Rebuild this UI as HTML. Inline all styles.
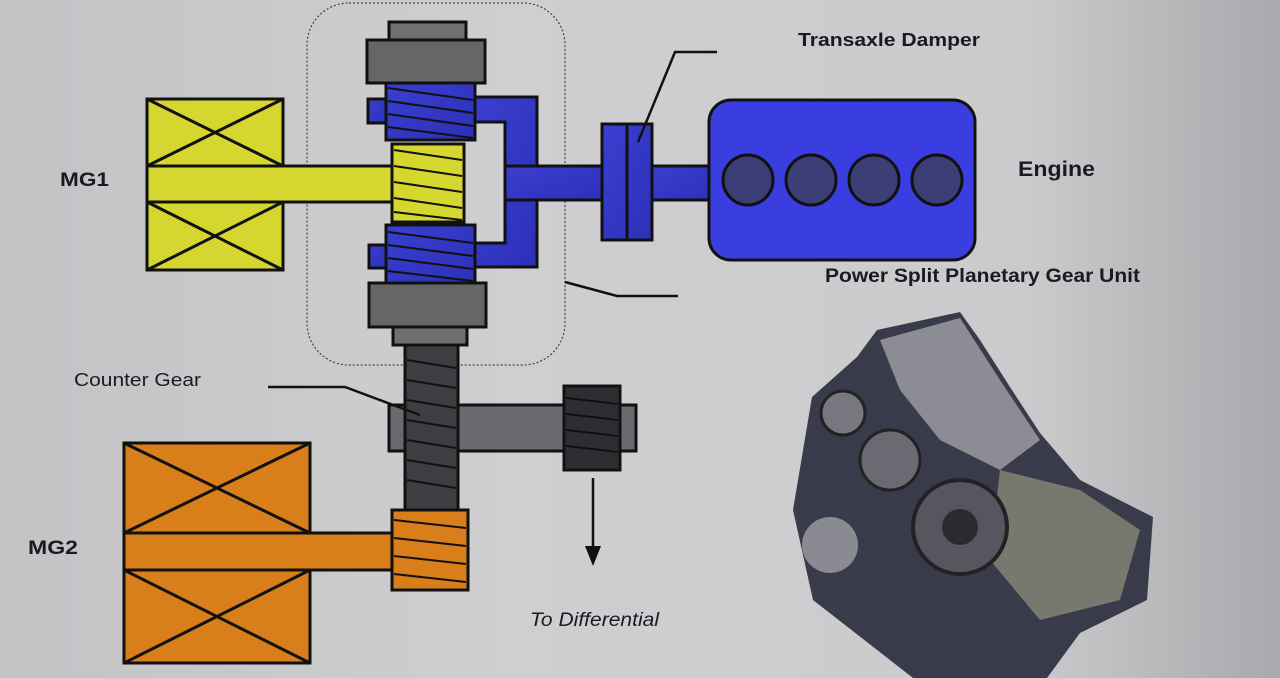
<!DOCTYPE html>
<html><head><meta charset="utf-8"><style>
html,body{margin:0;padding:0;width:1280px;height:678px;overflow:hidden;}
body{background:linear-gradient(90deg,#c3c3c6 0%,#cfcfd1 40%,#cbcbcd 80%,#a9a9ad 100%);}
svg{position:absolute;left:0;top:0;}
text{font-family:"Liberation Sans",sans-serif;fill:#1a1a20;}
</style></head><body>
<svg width="1280" height="678" viewBox="0 0 1280 678">
<defs>
<linearGradient id="bl" x1="0" y1="0" x2="1" y2="1"><stop offset="0" stop-color="#3a3fd0"/><stop offset="1" stop-color="#2c30b8"/></linearGradient>
</defs>
<g stroke="#111" stroke-width="3">
<rect x="307" y="3" width="258" height="362" rx="42" fill="none" stroke="#444" stroke-width="1.2" stroke-dasharray="2,2"/>
<rect x="147" y="99" width="136" height="171" fill="#d6d631"/>
<line x1="147" y1="99" x2="283" y2="166"/><line x1="283" y1="99" x2="147" y2="166"/>
<line x1="147" y1="202" x2="283" y2="270"/><line x1="283" y1="202" x2="147" y2="270"/>
<rect x="147" y="166" width="246" height="36" fill="#d6d631"/>
<rect x="389" y="22" width="77" height="18" fill="#707070"/>
<rect x="367" y="40" width="118" height="43" fill="#666"/>
<path d="M475 97 H537 V267 H475 V243 H505 V122 H475 Z" fill="url(#bl)"/>
<rect x="505" y="166" width="97" height="34" fill="url(#bl)"/>
<rect x="368" y="99" width="20" height="24" fill="url(#bl)"/>
<rect x="386" y="83" width="89" height="57" fill="url(#bl)"/>
<rect x="369" y="245" width="20" height="23" fill="url(#bl)"/>
<rect x="386" y="225" width="89" height="58" fill="url(#bl)"/>
<rect x="392" y="144" width="72" height="78" fill="#d6d631"/>
<rect x="369" y="283" width="117" height="44" fill="#666"/>
<rect x="393" y="327" width="74" height="18" fill="#707070"/>
<rect x="652" y="166" width="60" height="34" fill="url(#bl)"/>
<rect x="602" y="124" width="50" height="116" fill="url(#bl)"/>
<line x1="627" y1="124" x2="627" y2="240"/>
<rect x="709" y="100" width="266" height="160" rx="22" fill="#3a3ee0"/>
<circle cx="748" cy="180" r="25" fill="#3c3f75"/>
<circle cx="811" cy="180" r="25" fill="#3c3f75"/>
<circle cx="874" cy="180" r="25" fill="#3c3f75"/>
<circle cx="937" cy="180" r="25" fill="#3c3f75"/>
<rect x="389" y="405" width="247" height="46" fill="#6a6a6e"/>
<rect x="405" y="345" width="53" height="165" fill="#3e3e42"/>
<rect x="564" y="386" width="56" height="84" fill="#2e2e32"/>
<rect x="124" y="443" width="186" height="220" fill="#d87e1a"/>
<line x1="124" y1="443" x2="310" y2="533"/><line x1="310" y1="443" x2="124" y2="533"/>
<line x1="124" y1="570" x2="310" y2="663"/><line x1="310" y1="570" x2="124" y2="663"/>
<rect x="124" y="533" width="270" height="37" fill="#d87e1a"/>
<rect x="392" y="510" width="76" height="80" fill="#d87e1a"/>
</g>
<g stroke="#111" stroke-width="2">
<line x1="388" y1="88" x2="473" y2="100"/><line x1="388" y1="101" x2="473" y2="113"/><line x1="388" y1="114" x2="473" y2="126"/><line x1="388" y1="127" x2="473" y2="138"/>
<line x1="394" y1="150" x2="462" y2="160"/><line x1="394" y1="166" x2="462" y2="176"/><line x1="394" y1="182" x2="462" y2="192"/><line x1="394" y1="198" x2="462" y2="208"/><line x1="394" y1="212" x2="462" y2="220"/>
<line x1="388" y1="232" x2="473" y2="243"/><line x1="388" y1="245" x2="473" y2="256"/><line x1="388" y1="258" x2="473" y2="269"/><line x1="388" y1="271" x2="473" y2="281"/>
<line x1="407" y1="360" x2="456" y2="368"/><line x1="407" y1="380" x2="456" y2="388"/><line x1="407" y1="400" x2="456" y2="408"/><line x1="407" y1="420" x2="456" y2="428"/><line x1="407" y1="440" x2="456" y2="448"/><line x1="407" y1="460" x2="456" y2="468"/><line x1="407" y1="480" x2="456" y2="488"/>
<line x1="566" y1="398" x2="618" y2="404"/><line x1="566" y1="414" x2="618" y2="420"/><line x1="566" y1="430" x2="618" y2="436"/><line x1="566" y1="446" x2="618" y2="452"/>
<line x1="394" y1="520" x2="466" y2="528"/><line x1="394" y1="538" x2="466" y2="546"/><line x1="394" y1="556" x2="466" y2="564"/><line x1="394" y1="574" x2="466" y2="582"/>
</g>
<g stroke="#111" stroke-width="2.5" fill="none">
<polyline points="638,142 675,52 717,52"/>
<polyline points="565,282 617,296 678,296"/>
<polyline points="268,387 345,387 420,415"/>
<line x1="593" y1="478" x2="593" y2="548"/>
</g>
<polygon points="585,546 601,546 593,566" fill="#111"/>
<polygon points="812,397 857,357 877,330 960,312 980,340 1010,387 1040,433 1080,480 1153,517 1147,600 1080,633 1047,678 913,678 813,600 793,510" fill="#3a3b4a"/>
<polygon points="880,340 960,318 1000,380 1040,440 1000,470 940,440 900,390" fill="#8c8c94"/>
<polygon points="1000,470 1080,490 1140,530 1120,600 1040,620 990,560" fill="#77786e"/>
<circle cx="960" cy="527" r="47" fill="#555660" stroke="#222" stroke-width="4"/>
<circle cx="960" cy="527" r="18" fill="#2a2a30"/>
<circle cx="890" cy="460" r="30" fill="#6a6a72" stroke="#222" stroke-width="3"/>
<circle cx="843" cy="413" r="22" fill="#777780" stroke="#222" stroke-width="3"/>
<circle cx="830" cy="545" r="28" fill="#8a8a92"/>
<text x="60" y="186" font-size="19" font-weight="bold" textLength="49" lengthAdjust="spacingAndGlyphs">MG1</text>
<text x="28" y="554" font-size="19" font-weight="bold" textLength="50" lengthAdjust="spacingAndGlyphs">MG2</text>
<text x="1018" y="176" font-size="21" font-weight="bold" textLength="77" lengthAdjust="spacingAndGlyphs">Engine</text>
<text x="798" y="46" font-size="18" font-weight="bold" textLength="182" lengthAdjust="spacingAndGlyphs">Transaxle Damper</text>
<text x="825" y="282" font-size="19" font-weight="bold" textLength="315" lengthAdjust="spacingAndGlyphs">Power Split Planetary Gear Unit</text>
<text x="74" y="386" font-size="18" textLength="127" lengthAdjust="spacingAndGlyphs">Counter Gear</text>
<text x="530" y="626" font-size="19" font-style="italic" textLength="129" lengthAdjust="spacingAndGlyphs">To Differential</text>
</svg>
</body></html>
